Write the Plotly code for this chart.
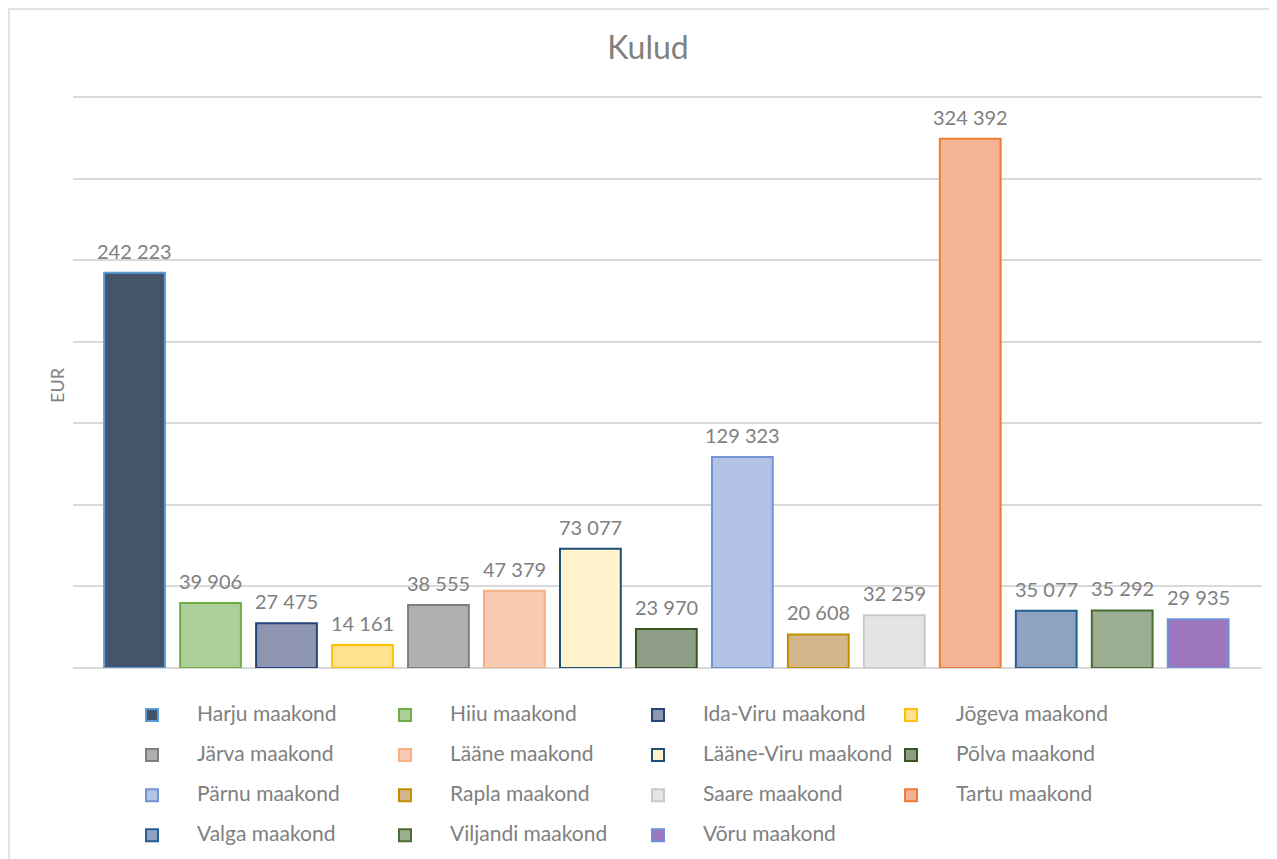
import plotly.graph_objects as go

counties = ["Harju maakond", "Hiiu maakond", "Ida-Viru maakond", "Jõgeva maakond",
            "Järva maakond", "Lääne maakond", "Lääne-Viru maakond", "Põlva maakond",
            "Pärnu maakond", "Rapla maakond", "Saare maakond", "Tartu maakond",
            "Valga maakond", "Viljandi maakond", "Võru maakond"]
values = [242223, 39906, 27475, 14161, 38555, 47379, 73077, 23970,
          129323, 20608, 32259, 324392, 35077, 35292, 29935]
labels = ["242 223", "39 906", "27 475", "14 161", "38 555", "47 379", "73 077", "23 970",
          "129 323", "20 608", "32 259", "324 392", "35 077", "35 292", "29 935"]
fill_colors = ["#44546A", "#AACF98", "#8E96B1", "#FFE190", "#B0B0B0", "#F8CBB2", "#FFF2CC", "#8E9E86",
               "#B3C3E6", "#D4B68A", "#E4E4E4", "#F4B394", "#8EA2C2", "#9BAE93", "#9E76BE"]
line_colors = ["#5B9BD5", "#70AD47", "#264478", "#FFC000", "#7F7F7F", "#F4B183", "#1F4E79", "#375623",
               "#7094D4", "#BF8F00", "#C9C9C9", "#ED7D31", "#255E91", "#4A6E31", "#6F8FD8"]

# the page body has an 8px margin: work in screen pixels and subtract it
OFF = 8
W, H = 1277 - OFF, 859 - OFF
PL, PR, PT, PB = 73, 1262, 95, 668          # plot area in screen pixels
L, R, T, B = PL - OFF, W - (PR - OFF), PT - OFF, H - (PB - OFF)
pw = W - L - R
ph = H - T - B
ytop = 350000 * (PB - PT) / (PB - 97)

def px_x(px):
    return (px - PL) / pw

def px_y(py):
    return (PB - py) / ph

fig = go.Figure()
for i, name in enumerate(counties):
    fig.add_trace(go.Bar(
        x=[i], y=[values[i]],
        name=f'<span style="font-size:21px;baseline-shift:5px">{name}</span>',
        marker=dict(color=fill_colors[i], line=dict(color=line_colors[i], width=2)),
        width=0.8, hoverinfo="skip",
    ))
    fig.add_annotation(x=i, y=values[i], xref="x", yref="y", text=labels[i], showarrow=False,
                       yanchor="bottom", xanchor="center", yshift=8,
                       font=dict(size=20, color="#808080", family="Lato"))

fig.update_layout(
    width=W, height=H,
    margin=dict(l=L, r=R, t=T, b=B, autoexpand=False),
    paper_bgcolor="white", plot_bgcolor="white",
    barmode="overlay",
    font=dict(family="Lato", color="#808080"),
    title=dict(text="Kulud", x=px_x(648), xanchor="center", y=1 - (48 - OFF) / H, yanchor="middle",
               xref="paper", font=dict(size=32, color="#808080", family="Lato")),
    xaxis=dict(range=[-0.81, 14.84], showticklabels=False, showgrid=False, zeroline=False,
               showline=False, ticks=""),
    yaxis=dict(range=[0, ytop], tickvals=[50000 * k for k in range(8)], showticklabels=False,
               gridcolor="#D9D9D9", gridwidth=1.5, zeroline=True, zerolinecolor="#D9D9D9",
               zerolinewidth=1.5),
    showlegend=True,
    legend=dict(orientation="h", x=px_x(107), xanchor="left", y=px_y(690), yanchor="top",
                font=dict(size=28.5, color="#808080", family="Lato"),
                entrywidth=158, entrywidthmode="pixels", itemwidth=80,
                traceorder="normal", bgcolor="rgba(0,0,0,0)"),
    shapes=[dict(type="rect", xref="paper", yref="paper",
                 x0=px_x(9), x1=px_x(1290), y0=px_y(870), y1=px_y(9),
                 line=dict(color="#D9D9D9", width=1.5), fillcolor="rgba(0,0,0,0)", layer="below")],
)
fig.add_annotation(text="EUR", xref="paper", yref="paper", x=px_x(57), y=px_y(385),
                   xanchor="center", yanchor="middle",
                   showarrow=False, textangle=-90, font=dict(size=18, color="#808080", family="Lato"))

fig.write_html("out.html")
